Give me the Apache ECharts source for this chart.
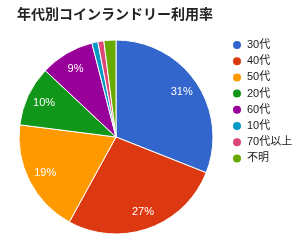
<!DOCTYPE html>
<html><head><meta charset="utf-8">
<script src="https://cdn.jsdelivr.net/npm/echarts@6/dist/echarts.min.js"></script>
<style>html,body{margin:0;padding:0;background:#fff}#c{width:300px;height:247px}</style>
</head><body><div id="c"></div>
<script>
const categories = ['30代','40代','50代','20代','60代','10代','70代以上','不明'];
const values = [31, 27, 19, 10, 9, 1, 1, 2];
const colors = ['#3366cc','#dc3912','#ff9900','#109618','#990099','#0099c6','#dd4477','#66aa00'];
const font = 'Arial, "Liberation Sans", "Noto Sans CJK JP", sans-serif';
const data = categories.map((n,i)=>({name:n, value:values[i]}));
const chart = echarts.init(document.getElementById('c'));
chart.setOption({
  animation:false,
  color: colors,
  title:{text:'年代別コインランドリー利用率', left:12, top:3,
    textStyle:{fontSize:14, fontWeight:'bold', color:'#222', fontFamily:font}},
  legend:{orient:'vertical', left:226, top:34, icon:'circle', itemWidth:10, itemHeight:10, itemGap:4.2,
    textStyle:{fontSize:11, lineHeight:11, color:'#222', fontFamily:font}, data:categories},
  series:[
    {type:'pie', center:[116,137], radius:97, startAngle:90, clockwise:true, silent:true,
     itemStyle:{borderColor:'#fff', borderWidth:1}, label:{show:false}, labelLine:{show:false}, data:data},
    {type:'pie', center:[116,137], radius:[56,97], startAngle:90, clockwise:true, silent:true,
     percentPrecision:0, legendHoverLink:false,
     itemStyle:{color:'rgba(0,0,0,0)', borderWidth:0},
     label:{show:true, position:'inside', color:'#fff', fontSize:11, fontFamily:font,
       formatter:p=>p.percent>=5?p.percent+'%':''},
     labelLine:{show:false},
     data:data}
  ]
});
</script></body></html>
